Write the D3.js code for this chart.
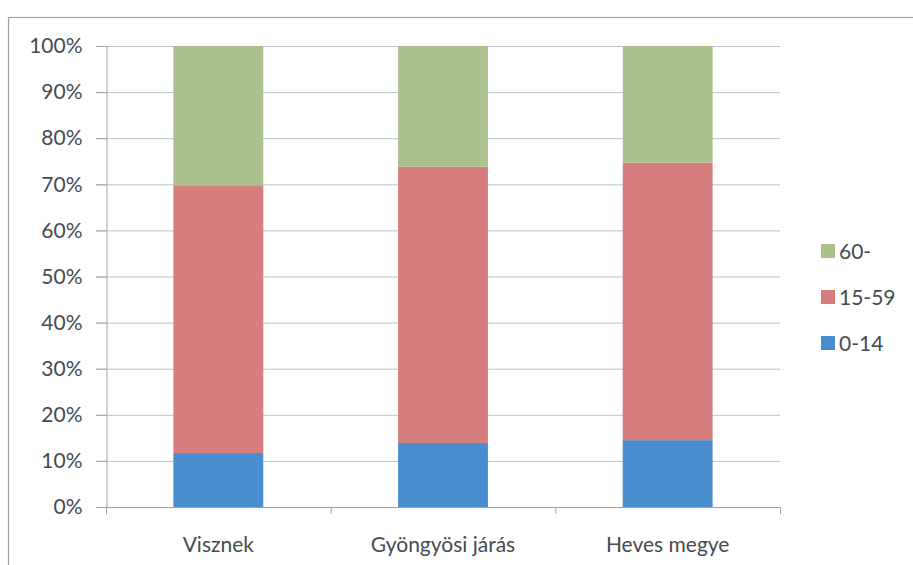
<!DOCTYPE html>
<html>
<head>
<meta charset="utf-8">
<script src="https://cdn.jsdelivr.net/npm/d3@7"></script>
<style>
  body { margin: 0; background: #fff; }
  text { font-family: Lato, "Open Sans", sans-serif; fill: #454b53; }
</style>
</head>
<body>
<div id="chart"></div>
<script>
const width = 913,
    height = 565;

const categories = ["Visznek", "Gyöngyösi járás", "Heves megye"];
const groups = ["0-14", "15-59", "60-"];
const young = [11.7, 13.9, 14.5];
const middle = [58.1, 59.9, 60.2];
const old = [30.2, 26.2, 25.3];
const yTicks = [0, 10, 20, 30, 40, 50, 60, 70, 80, 90, 100];
const colors = { "0-14": "#4a8dcf", "15-59": "#d77d80", "60-": "#abc28e" };

const rows = categories.map((c, i) => ({
    cat: c,
    "0-14": young[i],
    "15-59": middle[i],
    "60-": old[i]
}));

const plotLeft = 106, plotRight = 780, plotTop = 46, plotBottom = 507;

const svg = d3
    .select("#chart")
    .append("svg")
    .attr("width", width)
    .attr("height", height);

// outer frame (cut off by the scan at right and bottom)
svg.append("rect")
    .attr("x", 8.5)
    .attr("y", 17.5)
    .attr("width", 920)
    .attr("height", 600)
    .attr("fill", "none")
    .attr("stroke", "#9aa3ad")
    .attr("stroke-width", 1.2);

const xScale = d3.scaleBand().domain(categories).range([plotLeft, plotRight]).paddingInner(0.6).paddingOuter(0.3);
const yScale = d3.scaleLinear().domain([0, 100]).range([plotBottom, plotTop]);

// gridlines
svg.append("g")
    .selectAll("line")
    .data(yTicks.filter((d) => d > 0))
    .enter()
    .append("line")
    .attr("x1", plotLeft - 10)
    .attr("x2", plotRight)
    .attr("y1", (d) => yScale(d) + 0.5)
    .attr("y2", (d) => yScale(d) + 0.5)
    .attr("stroke", "#bcc3cc")
    .attr("stroke-width", 1);

// stacked bars
const stack = d3.stack().keys(groups)(rows);
svg.append("g")
    .selectAll("g")
    .data(stack)
    .enter()
    .append("g")
    .attr("fill", (d) => colors[d.key])
    .selectAll("rect")
    .data((d) => d)
    .enter()
    .append("rect")
    .attr("x", (d) => xScale(d.data.cat))
    .attr("y", (d) => yScale(d[1]))
    .attr("width", xScale.bandwidth())
    .attr("height", (d) => yScale(d[0]) - yScale(d[1]));

// y axis
const yAxis = d3.axisLeft(yScale).tickValues(yTicks).tickFormat((d) => d + "%").tickSize(10).tickPadding(14);
const gy = svg.append("g")
    .attr("transform", "translate(" + (plotLeft + 0.5) + ",0)")
    .call(yAxis);
gy.selectAll("path, line").attr("stroke", "#9aa3ad");
gy.selectAll("text")
    .style("font-size", "21px")
    .style("font-family", "Lato, sans-serif")
    .attr("fill", "#454b53");

// x axis, ticks at category boundaries
const bounds = [0, 1, 2, 3].map((i) => plotLeft + i * (plotRight - plotLeft) / 3);
const gx = svg.append("g");
gx.append("line")
    .attr("x1", plotLeft)
    .attr("x2", plotRight)
    .attr("y1", plotBottom + 0.5)
    .attr("y2", plotBottom + 0.5)
    .attr("stroke", "#9aa3ad");
gx.selectAll(".tk")
    .data(bounds)
    .enter()
    .append("line")
    .attr("x1", (d) => d + 0.5)
    .attr("x2", (d) => d + 0.5)
    .attr("y1", plotBottom)
    .attr("y2", plotBottom + 7)
    .attr("stroke", "#9aa3ad");
gx.selectAll("text")
    .data(categories)
    .enter()
    .append("text")
    .attr("x", (d) => xScale(d) + xScale.bandwidth() / 2)
    .attr("y", 552)
    .attr("text-anchor", "middle")
    .style("font-size", "21px")
    .text((d) => d);

// legend
const legendItems = groups.slice().reverse();
const legend = svg.append("g");
legend.selectAll("rect")
    .data(legendItems)
    .enter()
    .append("rect")
    .attr("x", 821)
    .attr("y", (d, i) => 244 + i * 46)
    .attr("width", 14)
    .attr("height", 14)
    .attr("fill", (d) => colors[d]);
legend.selectAll("text")
    .data(legendItems)
    .enter()
    .append("text")
    .attr("x", 839)
    .attr("y", (d, i) => 259 + i * 46)
    .style("font-size", "21px")
    .text((d) => d);
</script>
</body>
</html>
